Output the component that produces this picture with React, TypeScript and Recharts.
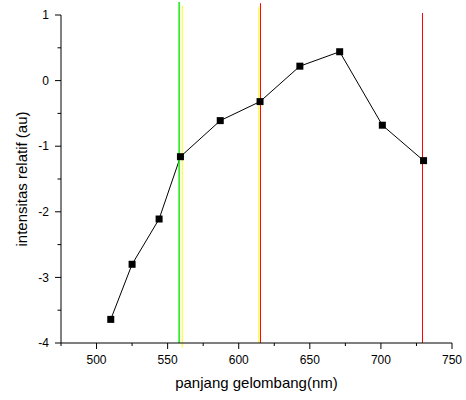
import React from 'react';
import { LineChart, Line, XAxis, YAxis, ReferenceLine, Label } from 'recharts';

const wavelengths = [510, 525, 544, 559, 587, 615, 643, 671, 701, 730];
const intensities = [-3.64, -2.8, -2.11, -1.16, -0.61, -0.32, 0.22, 0.44, -0.68, -1.22];

const xTicks = [475, 500, 525, 550, 575, 600, 625, 650, 675, 700, 725, 750];
const xMajor = [500, 550, 600, 650, 700, 750];
const yTicks = [-4, -3.5, -3, -2.5, -2, -1.5, -1, -0.5, 0, 0.5, 1];
const yMajor = [-4, -3, -2, -1, 0, 1];

const lineX = [558.1, 560.25, 614.1, 615.3, 729.25];
const lineTop = [1.2, 1.145, 1.12, 1.18, 1.03];
const lineBottom = [-4, -4.07, -4, -4, -4];
const lineColors = ['#22ee22', '#ffff00', '#ffff00', '#ff0000', '#ff0000'];
const lineWidths = [1.6, 1, 1, 1, 1];

const data = wavelengths.map((w, i) => ({ w, v: intensities[i] }));

const FONT = "'Liberation Sans', Arial, sans-serif";

const XTick = (props: any) => {
  const { x, y, payload } = props;
  const major = xMajor.includes(payload.value);
  return (
    <g>
      <line x1={x} x2={x} y1={y} y2={y + (major ? 6 : 3)} stroke="#000" />
      {major && (
        <text x={x} y={y + 12} dy="0.71em" textAnchor="middle" fontSize={12} fontFamily={FONT} fill="#000">
          {payload.value}
        </text>
      )}
    </g>
  );
};

const YTick = (props: any) => {
  const { x, y, payload } = props;
  const major = yMajor.includes(payload.value);
  return (
    <g>
      <line x1={x - (major ? 6 : 3.5)} x2={x} y1={y} y2={y} stroke="#000" />
      {major && (
        <text x={x - 12} y={y} dy="0.355em" textAnchor="end" fontSize={12} fontFamily={FONT} fill="#000">
          {payload.value}
        </text>
      )}
    </g>
  );
};

const Marker = (props: any) => {
  const { cx, cy, index } = props;
  return <rect key={index} x={cx - 3.5} y={cy - 3.5} width={7} height={7} fill="#000" />;
};

export default function App() {
  return (
    <div style={{ position: 'absolute', left: 0, top: 0, background: '#fff' }}>
      <LineChart width={466} height={400} data={data} margin={{ top: 15, right: 14, left: 0, bottom: 0 }}>
        <XAxis
          dataKey="w"
          type="number"
          domain={[475, 750]}
          ticks={xTicks}
          interval={0}
          tick={<XTick />}
          tickLine={false}
          tickSize={0}
          tickMargin={0}
          axisLine={{ stroke: '#000' }}
          height={57}
          allowDataOverflow
        >
          <Label value="panjang gelombang(nm)" position="center" dy={11} fontSize={15} fontFamily={FONT} fill="#000" />
        </XAxis>
        <YAxis
          type="number"
          domain={[-4, 1]}
          ticks={yTicks}
          interval={0}
          tick={<YTick />}
          tickLine={false}
          tickSize={0}
          tickMargin={0}
          axisLine={{ stroke: '#000' }}
          width={61}
          allowDataOverflow
        >
          <Label value="intensitas relatif (au)" position="center" angle={-90} dx={-9} fontSize={15} fontFamily={FONT} fill="#000" />
        </YAxis>
        <Line
          dataKey="v"
          stroke="#000"
          strokeWidth={1}
          dot={<Marker />}
          activeDot={false}
          isAnimationActive={false}
        />
        {lineX.map((lx, i) => (
          <ReferenceLine
            key={i}
            segment={[{ x: lx, y: lineBottom[i] }, { x: lx, y: lineTop[i] }]}
            stroke={lineColors[i]}
            strokeWidth={lineWidths[i]}
            ifOverflow="visible"
          />
        ))}
      </LineChart>
    </div>
  );
}
